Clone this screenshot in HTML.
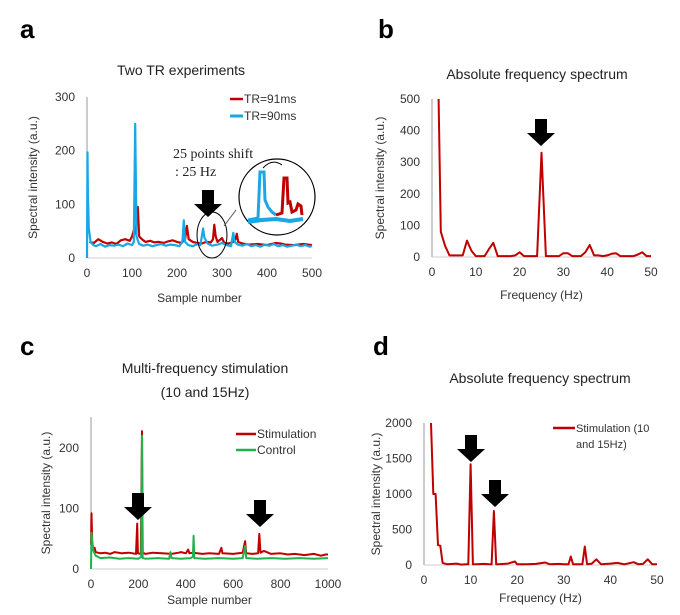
<!DOCTYPE html>
<html><head><meta charset="utf-8"><style>
html,body{margin:0;padding:0;background:#fff;}
svg{display:block;font-family:"Liberation Sans",sans-serif;}
.t{font-size:12px;fill:#333;}
.ti{font-size:14px;fill:#222;}
.pl{font-size:26px;font-weight:bold;fill:#000;}
</style></head><body>
<svg id="fig" width="680" height="615" viewBox="0 0 680 615"></svg>
<script>
const aTicksX=[0,100,200,300,400,500];
const aTicksY=[0,100,200,300];
const aRedX=[5,15,25,35,45,55,65,75,85,95,100,105,108,113,116,122,130,140,150,160,170,180,190,200,210,218,222,226,235,245,255,265,275,280,283,286,290,300,305,315,325,330,333,336,345,360,380,400,420,430,440,460,480,500];
const aRedY=[30,28,35,30,27,29,26,33,35,32,40,55,45,95,40,35,30,32,29,30,28,31,33,30,28,35,60,35,30,28,27,30,29,35,62,40,30,37,28,27,30,35,45,30,27,25,26,24,28,27,25,24,26,24];
const aBlueX=[0,1,2,4,8,14,20,30,40,50,60,70,80,90,100,104,107,110,116,125,135,145,155,165,175,185,195,205,212,215,218,225,235,245,252,255,258,261,268,278,290,300,310,320,325,328,335,345,355,365,375,385,395,405,415,425,435,445,455,465,475,485,495,500];
const aBlueY=[0,197,120,55,30,24,22,26,21,24,23,25,22,27,24,30,250,40,26,23,25,22,24,26,23,25,24,22,30,70,30,24,22,26,24,40,55,38,27,23,25,28,24,22,47,30,25,23,26,22,24,21,25,23,26,22,24,21,23,25,22,24,21,23];
const bTicksX=[0,10,20,30,40,50];
const bTicksY=[0,100,200,300,400,500];
const bFreq=[1.5,2,3,4,5,6,7,8,9,10,11,12,13,14,15,16,17,18,19,20,21,22,23,24,25,26,27,28,29,30,31,32,33,34,35,36,37,38,39,40,41,42,43,44,45,46,47,48,49,50];
const bVal=[500,80,35,5,5,5,5,52,20,3,3,3,25,45,3,3,3,3,5,15,3,3,3,3,330,3,3,3,3,12,12,3,3,3,15,38,5,5,3,5,10,12,3,3,3,3,8,15,3,3];
const cTicksX=[0,200,400,600,800,1000];
const cTicksY=[0,100,200];
const cRedX=[0,2,5,10,15,20,40,60,80,100,130,160,190,195,198,210,215,218,230,260,300,340,370,380,400,410,415,430,470,500,540,550,555,600,640,650,655,680,705,710,715,730,760,800,830,860,900,940,970,990,1000];
const cRedY=[40,92,45,30,35,28,26,27,25,28,26,27,25,75,26,25,228,27,25,27,26,25,27,28,26,32,26,27,25,26,25,35,26,25,27,46,26,25,26,58,27,30,25,26,24,25,23,25,22,24,24];
const cGreenX=[0,2,5,10,20,40,80,120,160,200,212,215,218,230,280,330,335,340,380,420,430,433,436,480,540,600,640,650,655,700,760,820,880,940,1000];
const cGreenY=[0,60,45,30,22,18,19,17,18,17,20,220,18,17,18,17,28,18,17,18,20,55,18,17,18,17,18,38,18,17,18,17,18,17,18];
const dTicksX=[0,10,20,30,40,50];
const dTicksY=[0,500,1000,1500,2000];
const dFreq=[1.5,2,2.5,3,3.5,4,5,7,8,9,9.5,10,10.5,11,13,14,14.5,15,15.5,16,18,19.5,20,22,24,26,27,29,30,31,31.5,32,33,34,34.5,35,36,37,38,40,41.5,43,45,46,47,48,49,50];
const dVal=[2000,1000,1000,280,270,30,10,20,5,10,10,1420,10,10,15,10,10,760,10,10,20,50,10,10,15,35,10,15,10,10,120,10,10,10,260,10,20,80,10,20,30,10,40,10,15,80,10,10];

const NS="http://www.w3.org/2000/svg";
const svg=document.getElementById('fig');
function mk(tag,attrs,parent,text){const e=document.createElementNS(NS,tag);for(const k in attrs)e.setAttribute(k,attrs[k]);if(text!==undefined)e.textContent=text;(parent||svg).appendChild(e);return e;}

function axes(g,cfg){
  const sx=v=>cfg.x0+(v-cfg.xmin)/(cfg.xmax-cfg.xmin)*(cfg.x1-cfg.x0);
  const sy=v=>cfg.y0-(v-cfg.ymin)/(cfg.ymax-cfg.ymin)*(cfg.y0-cfg.y1);
  const ya=mk('line',{x1:cfg.x0,y1:cfg.y0,x2:cfg.x0,y2:cfg.ytop,stroke:'#aaa','stroke-width':1.2},g);
  
  
  const xa=mk('line',{x1:cfg.x0,y1:cfg.y0,x2:cfg.x1,y2:cfg.y0,stroke:'#ccc','stroke-width':1},g);
  
  
  cfg.tx.forEach(v=>{const t=mk('text',{x:sx(v),y:cfg.y0+19,'text-anchor':'middle',class:'t'},g,String(v));
    
    });
  cfg.ty.forEach(v=>{const t=mk('text',{x:cfg.x0-12,y:sy(v)+4,'text-anchor':'end',class:'t'},g,String(v));
    
    });
  const xt=mk('text',{x:(cfg.x0+cfg.x1)/2,y:cfg.xty,'text-anchor':'middle',class:'t'},g,cfg.xt);
  
  
  const yt=mk('text',{x:0,y:0,'text-anchor':'middle',class:'t',transform:`translate(${cfg.ytx},${(cfg.y0+cfg.ytop)/2}) rotate(-90)`},g,'Spectral intensity (a.u.)');
  
  
  return {sx,sy};
}
function series(g,s,xs,ys,color,w,name){
  const n=Math.min(xs.length,ys.length);let d='';
  for(let i=0;i<n;i++){d+=(i?'L':'M')+s.sx(xs[i]).toFixed(1)+','+Math.max(s.sy(ys[i]),s.top).toFixed(1);}
  const p=mk('path',{d,fill:'none',stroke:color,'stroke-width':w,'stroke-linejoin':'round'},g);
  
  
}
function arrow(g,cx,ytop,name){
  const p=mk('path',{d:`M${cx-6},${ytop}h12v14h8l-14,13l-14,-13h8z`,fill:'#000'},g);
  
  
}
function label(txt,x,y,name){const t=mk('text',{x,y,class:'pl'},svg,txt);
  
  }

// Panel a
label('a',20,38,'panel-label-a');
const ga=mk('g',{});


let t=mk('text',{x:181,y:75,'text-anchor':'middle',class:'ti'},ga,'Two TR experiments');


const sa=axes(ga,{x0:87,x1:312,y0:258,y1:97,ytop:97,xmin:0,xmax:500,ymin:0,ymax:300,tx:aTicksX,ty:aTicksY,xt:'Sample number',xty:302,ytx:37});
sa.top=97;
series(ga,sa,aRedX,aRedY,'#c00000',2.2,'series-tr91');
series(ga,sa,aBlueX,aBlueY,'#1aa7e6',2.2,'series-tr90');
mk('line',{x1:230,y1:99,x2:243,y2:99,stroke:'#c00000','stroke-width':2.5},ga);
t=mk('text',{x:244,y:103,class:'t'},ga,'TR=91ms');


mk('line',{x1:230,y1:116,x2:243,y2:116,stroke:'#1aa7e6','stroke-width':3},ga);
t=mk('text',{x:244,y:120,class:'t'},ga,'TR=90ms');


t=mk('text',{x:173,y:158,style:'font-family:"Liberation Serif",serif;font-size:14px',fill:'#222'},ga,'25 points shift');


t=mk('text',{x:175,y:176,style:'font-family:"Liberation Serif",serif;font-size:14px',fill:'#222'},ga,': 25 Hz');


arrow(ga,208,190,'arrow-a');
let e=mk('ellipse',{cx:212,cy:235,rx:15,ry:23,fill:'none',stroke:'#000','stroke-width':1},ga);


mk('line',{x1:224,y1:226,x2:236,y2:210,stroke:'#555','stroke-width':1},ga);
e=mk('circle',{cx:277,cy:197,r:38,fill:'#fff',stroke:'#000','stroke-width':1.2},ga);


// inset schematic
mk('path',{d:'M248,220 L258,218 L260,172 L264,172 L265,200 L268,207 L272,212 L276,215',fill:'none',stroke:'#1aa7e6','stroke-width':3},ga);
mk('path',{d:'M276,215 L282,213 L284,178 L287,178 L288,203 L290,202 L292,212 L296,210 L298,204 L301,206 L302,215',fill:'none',stroke:'#c00000','stroke-width':3},ga);
mk('path',{d:'M248,222 L262,220 L276,219 L290,221 L303,219',fill:'none',stroke:'#1aa7e6','stroke-width':4},ga);
mk('path',{d:'M263,168 Q272,158 282,165',fill:'none',stroke:'#000','stroke-width':1},ga);

// Panel b
label('b',378,38,'panel-label-b');
const gb=mk('g',{});


t=mk('text',{x:537,y:79,'text-anchor':'middle',class:'ti'},gb,'Absolute frequency spectrum');


const sb=axes(gb,{x0:432,x1:651,y0:257,y1:99,ytop:99,xmin:0,xmax:50,ymin:0,ymax:500,tx:bTicksX,ty:bTicksY,xt:'Frequency (Hz)',xty:299,ytx:384});
sb.top=99;
series(gb,sb,bFreq,bVal,'#c00000',2,'series-spectrum-b');
arrow(gb,541,119,'arrow-b-25hz');

// Panel c
label('c',20,355,'panel-label-c');
const gc=mk('g',{});


t=mk('text',{x:205,y:373,'text-anchor':'middle',class:'ti'},gc,'Multi-frequency stimulation');


t=mk('text',{x:205,y:397,'text-anchor':'middle',class:'ti'},gc,'(10 and 15Hz)');


const sc=axes(gc,{x0:91,x1:328,y0:569,y1:448,ytop:417,xmin:0,xmax:1000,ymin:0,ymax:200,tx:cTicksX,ty:cTicksY,xt:'Sample number',xty:604,ytx:50});
sc.top=417;
series(gc,sc,cRedX,cRedY,'#c00000',2,'series-stimulation');
series(gc,sc,cGreenX,cGreenY,'#22b14c',2,'series-control');
mk('line',{x1:236,y1:434,x2:256,y2:434,stroke:'#c00000','stroke-width':2.5},gc);
t=mk('text',{x:257,y:438,class:'t'},gc,'Stimulation');


mk('line',{x1:236,y1:450,x2:256,y2:450,stroke:'#22b14c','stroke-width':2.5},gc);
t=mk('text',{x:257,y:454,class:'t'},gc,'Control');


arrow(gc,138,493,'arrow-c-10hz');
arrow(gc,260,500,'arrow-c-15hz');

// Panel d
label('d',373,355,'panel-label-d');
const gd=mk('g',{});


t=mk('text',{x:540,y:383,'text-anchor':'middle',class:'ti'},gd,'Absolute frequency spectrum');


const sd=axes(gd,{x0:424,x1:657,y0:565,y1:423,ytop:423,xmin:0,xmax:50,ymin:0,ymax:2000,tx:dTicksX,ty:dTicksY,xt:'Frequency (Hz)',xty:602,ytx:380});
sd.top=423;
series(gd,sd,dFreq,dVal,'#c00000',2,'series-spectrum-d');
mk('line',{x1:553,y1:428,x2:575,y2:428,stroke:'#c00000','stroke-width':2.5},gd);
t=mk('text',{x:576,y:432,style:'font-size:11px',fill:'#333'},gd,'Stimulation (10');


t=mk('text',{x:576,y:448,style:'font-size:11px',fill:'#333'},gd,'and 15Hz)');


arrow(gd,471,435,'arrow-d-10hz');
arrow(gd,495,480,'arrow-d-15hz');
</script>
</body></html>
